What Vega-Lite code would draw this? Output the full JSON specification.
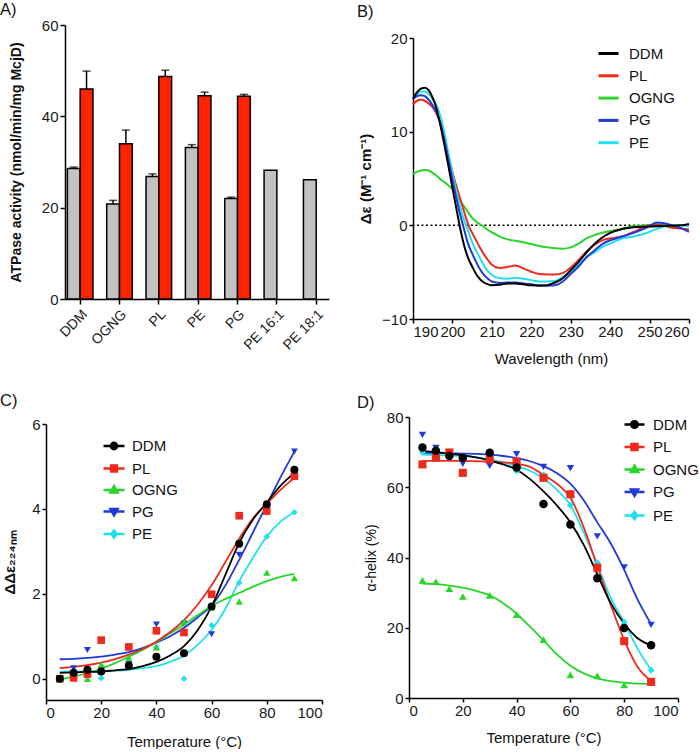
{
"$schema": "https://vega.github.io/schema/vega-lite/v6.json",
"background": "white",
"padding": {"left": 0, "top": 2, "right": 0, "bottom": 0},
"columns": 2,
"align": "all",
"bounds": "flush",
"spacing": {"row": 98, "column": 72},
"resolve": {"scale": {"color": "independent", "shape": "independent", "size": "independent"}, "legend": {"color": "independent"}},
"config": {
  "font": "Liberation Sans",
  "view": {"stroke": null},
  "axis": {"domainColor": "#000", "domainWidth": 1.5, "tickColor": "#000", "tickWidth": 1.5, "tickSize": 4, "labelFontSize": 15, "labelColor": "#1a1a1a", "titleColor": "#111", "titleFontSize": 15, "titleFontWeight": "normal", "grid": false, "labelFont": "Liberation Sans", "titleFont": "Liberation Sans", "labelPadding": 1, "titlePadding": 10},
  "legend": {"labelFontSize": 15, "labelFont": "Liberation Sans", "labelColor": "#111", "padding": 0, "orient": "none"},
  "title": {"font": "Liberation Sans", "fontSize": 16.5, "fontWeight": "normal", "anchor": "start", "baseline": "alphabetic", "color": "#111", "frame": "group"}
},
"concat": [
{
 "width": 264, "height": 274,
 "title": {"text": "A)", "dx": -65, "offset": -0.5},
 "data": {"values": [
  {"cat":"DDM","g":"a","v":28.6,"e":28.9},
  {"cat":"DDM","g":"b","v":46.0,"e":49.9},
  {"cat":"OGNG","g":"a","v":20.8,"e":21.6},
  {"cat":"OGNG","g":"b","v":34.0,"e":37.0},
  {"cat":"PL","g":"a","v":26.8,"e":27.4},
  {"cat":"PL","g":"b","v":48.7,"e":50.1},
  {"cat":"PE","g":"a","v":33.2,"e":33.8},
  {"cat":"PE","g":"b","v":44.5,"e":45.3},
  {"cat":"PG","g":"a","v":22.0,"e":22.3},
  {"cat":"PG","g":"b","v":44.4,"e":44.8},
  {"cat":"PE 16:1","g":"a","v":28.2},
  {"cat":"PE 18:1","g":"a","v":26.1}
 ]},
 "layer": [
  {"mark": {"type": "bar", "stroke": "#000", "strokeWidth": 1.5},
   "encoding": {
    "x": {"field": "cat", "type": "nominal", "sort": null, "scale": {"paddingInner": 0.35, "paddingOuter": 0.03, "align": 1}, "axis": {"title": null, "labelAngle": -45, "labelAlign": "right", "labelBaseline": "top", "labelFontSize": 14, "tickSize": 5, "labelPadding": 3}},
    "xOffset": {"field": "g", "type": "nominal", "scale": {"domain": ["a", "b"]}},
    "y": {"field": "v", "type": "quantitative", "scale": {"domain": [0, 60], "nice": false}, "axis": {"values": [0, 20, 40, 60], "title": "ATPase activity (nmol/min/mg McjD)", "titleFontWeight": "bold", "titleFontSize": 14, "titlePadding": 18, "tickSize": 5, "labelPadding": 2}},
    "color": {"field": "g", "type": "nominal", "scale": {"domain": ["a", "b"], "range": ["#c2c2c2", "#ff2300"]}, "legend": null}
   }},
  {"transform": [{"filter": "isValid(datum.e)"}],
   "mark": {"type": "rule", "stroke": "#000", "strokeWidth": 1.5},
   "encoding": {
    "x": {"field": "cat", "type": "nominal", "sort": null},
    "xOffset": {"field": "g", "type": "nominal"},
    "y": {"field": "v", "type": "quantitative"},
    "y2": {"field": "e"}
   }},
  {"transform": [{"filter": "isValid(datum.e)"}],
   "mark": {"type": "tick", "color": "#000", "thickness": 1.5, "size": 8},
   "encoding": {
    "x": {"field": "cat", "type": "nominal", "sort": null},
    "xOffset": {"field": "g", "type": "nominal"},
    "y": {"field": "e", "type": "quantitative"}
   }}
 ]
},
{
 "width": 276, "height": 294,
 "title": {"text": "B)", "dx": -56, "offset": 4.8},
 "layer": [
  {"data": {"values": [{}]}, "mark": {"type": "rule", "strokeDash": [2, 2.5], "strokeWidth": 1.5, "color": "#000"}, "encoding": {"y": {"datum": 0}}},
  {"data": {"values": [
   {"w":190,"DDM":13.5,"PL":12.9,"OGNG":5.5,"PG":13.5,"PE":13.6},
   {"w":191,"DDM":14.2,"PL":13.3,"OGNG":5.7,"PG":13.8,"PE":14.0},
   {"w":192,"DDM":14.6,"PL":13.4,"OGNG":5.85,"PG":13.9,"PE":14.3},
   {"w":193,"DDM":14.7,"PL":13.3,"OGNG":5.9,"PG":13.8,"PE":14.3},
   {"w":194,"DDM":14.4,"PL":13.0,"OGNG":5.85,"PG":13.4,"PE":14.0},
   {"w":195,"DDM":13.6,"PL":12.6,"OGNG":5.6,"PG":12.8,"PE":13.5},
   {"w":196,"DDM":12.4,"PL":11.9,"OGNG":5.3,"PG":12.0,"PE":12.8},
   {"w":197,"DDM":10.6,"PL":10.9,"OGNG":4.9,"PG":10.8,"PE":11.6},
   {"w":198,"DDM":8.5,"PL":9.4,"OGNG":4.6,"PG":9.0,"PE":9.8},
   {"w":199,"DDM":6.3,"PL":7.4,"OGNG":4.25,"PG":7.0,"PE":7.6},
   {"w":200,"DDM":4.0,"PL":5.7,"OGNG":3.85,"PG":4.9,"PE":5.6},
   {"w":201,"DDM":1.8,"PL":4.2,"OGNG":3.3,"PG":2.9,"PE":3.6},
   {"w":202,"DDM":-0.4,"PL":2.8,"OGNG":2.6,"PG":1.1,"PE":1.9},
   {"w":203,"DDM":-2.2,"PL":1.4,"OGNG":2.0,"PG":-0.5,"PE":0.5},
   {"w":204,"DDM":-3.5,"PL":0.1,"OGNG":1.35,"PG":-2.0,"PE":-0.6},
   {"w":205,"DDM":-4.4,"PL":-0.8,"OGNG":0.8,"PG":-3.0,"PE":-1.8},
   {"w":206,"DDM":-5.2,"PL":-1.6,"OGNG":0.4,"PG":-3.9,"PE":-2.7},
   {"w":207,"DDM":-5.75,"PL":-2.4,"OGNG":0.1,"PG":-4.7,"PE":-3.5},
   {"w":208,"DDM":-6.1,"PL":-3.1,"OGNG":-0.15,"PG":-5.3,"PE":-4.3},
   {"w":209,"DDM":-6.3,"PL":-3.7,"OGNG":-0.5,"PG":-5.7,"PE":-4.9},
   {"w":210,"DDM":-6.4,"PL":-4.2,"OGNG":-0.75,"PG":-6.0,"PE":-5.3},
   {"w":212,"DDM":-6.35,"PL":-4.55,"OGNG":-1.2,"PG":-6.15,"PE":-5.65},
   {"w":214,"DDM":-6.2,"PL":-4.45,"OGNG":-1.5,"PG":-6.1,"PE":-5.7},
   {"w":216,"DDM":-6.2,"PL":-4.3,"OGNG":-1.65,"PG":-6.1,"PE":-5.6},
   {"w":218,"DDM":-6.3,"PL":-4.6,"OGNG":-1.8,"PG":-6.2,"PE":-5.7},
   {"w":220,"DDM":-6.4,"PL":-4.95,"OGNG":-2.0,"PG":-6.3,"PE":-5.85},
   {"w":222,"DDM":-6.45,"PL":-5.2,"OGNG":-2.2,"PG":-6.4,"PE":-6.0},
   {"w":224,"DDM":-6.4,"PL":-5.25,"OGNG":-2.35,"PG":-6.45,"PE":-6.0},
   {"w":226,"DDM":-6.1,"PL":-5.25,"OGNG":-2.45,"PG":-6.4,"PE":-5.95},
   {"w":228,"DDM":-5.65,"PL":-5.1,"OGNG":-2.5,"PG":-6.0,"PE":-5.5},
   {"w":230,"DDM":-4.8,"PL":-4.5,"OGNG":-2.35,"PG":-5.2,"PE":-4.9},
   {"w":232,"DDM":-3.9,"PL":-3.7,"OGNG":-1.95,"PG":-4.4,"PE":-4.2},
   {"w":234,"DDM":-2.9,"PL":-2.8,"OGNG":-1.4,"PG":-3.4,"PE":-3.4},
   {"w":236,"DDM":-2.0,"PL":-2.1,"OGNG":-1.05,"PG":-2.7,"PE":-2.9},
   {"w":238,"DDM":-1.3,"PL":-1.6,"OGNG":-0.8,"PG":-2.0,"PE":-2.3},
   {"w":240,"DDM":-0.8,"PL":-1.4,"OGNG":-0.6,"PG":-1.6,"PE":-1.95},
   {"w":243,"DDM":-0.4,"PL":-1.2,"OGNG":-0.35,"PG":-1.2,"PE":-1.4},
   {"w":246,"DDM":-0.2,"PL":-0.7,"OGNG":-0.1,"PG":-0.8,"PE":-1.2},
   {"w":249,"DDM":-0.15,"PL":-0.1,"OGNG":0.0,"PG":-0.3,"PE":-0.85},
   {"w":252,"DDM":-0.1,"PL":0.1,"OGNG":0.05,"PG":0.3,"PE":-0.35},
   {"w":255,"DDM":-0.05,"PL":-0.2,"OGNG":0.0,"PG":0.1,"PE":-0.05},
   {"w":258,"DDM":0.0,"PL":-0.35,"OGNG":0.0,"PG":-0.3,"PE":0.0},
   {"w":260,"DDM":0.15,"PL":-0.45,"OGNG":0.05,"PG":-0.7,"PE":-0.1}
  ]},
   "transform": [{"fold": ["OGNG", "PL", "PE", "PG", "DDM"], "as": ["s", "val"]}],
   "mark": {"type": "line", "strokeWidth": 2, "interpolate": "monotone"},
   "encoding": {
    "x": {"field": "w", "type": "quantitative", "scale": {"domain": [190, 260], "nice": false}, "axis": {"values": [190, 200, 210, 220, 230, 240, 250, 260], "title": "Wavelength (nm)", "titlePadding": 12}},
    "y": {"field": "val", "type": "quantitative", "scale": {"domain": [-10, 20], "nice": false, "range": [294, 13]}, "axis": {"values": [-10, 0, 10, 20], "title": "Δε (M⁻¹ cm⁻¹)", "titleFontWeight": "bold", "titlePadding": 8, "labelPadding": 2}},
    "color": {"field": "s", "type": "nominal", "scale": {"domain": ["DDM", "PL", "OGNG", "PG", "PE"], "range": ["#000000", "#ee2a1c", "#2ad52a", "#1f3ad8", "#20e0ee"]}, "legend": {"title": null, "legendX": 184, "legendY": 17, "symbolType": "stroke", "symbolSize": 400, "symbolStrokeWidth": 3, "labelOffset": 9, "rowPadding": 2.3}}
   }}
 ]
},
{
 "width": 257, "height": 283,
 "title": {"text": "C)", "dx": -65, "offset": 7.5},
 "encoding": {
  "x": {"field": "t", "type": "quantitative", "scale": {"domain": [0, 100], "nice": false, "range": [-19, 257]}, "axis": {"values": [0, 20, 40, 60, 80, 100], "title": "Temperature (°C)", "titlePadding": 14}},
  "y": {"field": "val", "type": "quantitative", "scale": {"domain": [-0.5, 6], "nice": false, "range": [283, 7]}, "axis": {"values": [0, 2, 4, 6], "offset": 19, "title": "ΔΔε₂₂₄ₙₘ", "titleFontWeight": "bold", "titlePadding": 14, "labelPadding": 2}},
  "color": {"field": "s", "type": "nominal", "scale": {"domain": ["DDM", "PL", "OGNG", "PG", "PE"], "range": ["#000000", "#ee2a1c", "#2ad52a", "#1f3ad8", "#20e0ee"]},
   "legend": {"title": null, "legendX": 37, "legendY": 17, "symbolSize": 441, "symbolStrokeWidth": 2.5, "labelOffset": 6, "rowPadding": 1.5,
    "encode": {"symbols": {"update": {
     "shape": {"signal": "datum.value == 'DDM' ? 'M-1,0H1M-0.3,0A0.3,0.3,0,1,0,0.3,0A0.3,0.3,0,1,0,-0.3,0Z' : datum.value == 'PL' ? 'M-1,0H1M-0.28,-0.28H0.28V0.28H-0.28Z' : datum.value == 'OGNG' ? 'M-1,0H1M0,-0.36L0.34,0.24H-0.34Z' : datum.value == 'PG' ? 'M-1,0H1M0,0.36L0.34,-0.24H-0.34Z' : 'M-1,0H1M0,-0.34L0.26,0L0,0.34L-0.26,0Z'"},
     "fill": {"signal": "datum.value == 'DDM' ? '#000000' : datum.value == 'PL' ? '#ee2a1c' : datum.value == 'OGNG' ? '#2ad52a' : datum.value == 'PG' ? '#1f3ad8' : '#20e0ee'"},
     "stroke": {"signal": "datum.value == 'DDM' ? '#000000' : datum.value == 'PL' ? '#ee2a1c' : datum.value == 'OGNG' ? '#2ad52a' : datum.value == 'PG' ? '#1f3ad8' : '#20e0ee'"},
     "strokeWidth": {"value": 2.5},
     "size": {"value": 441},
     "opacity": {"value": 1}
    }}}}}
 },
 "layer": [
  {"data": {"values": [
   {"t":5,"DDM":0.14,"PL":0.25,"OGNG":-0.02,"PG":0.46,"PE":0.17},
   {"t":10,"DDM":0.15,"PL":0.28,"OGNG":0.05,"PG":0.47,"PE":0.17},
   {"t":15,"DDM":0.16,"PL":0.32,"OGNG":0.13,"PG":0.49,"PE":0.18},
   {"t":20,"DDM":0.17,"PL":0.38,"OGNG":0.24,"PG":0.52,"PE":0.18},
   {"t":25,"DDM":0.2,"PL":0.46,"OGNG":0.37,"PG":0.57,"PE":0.19},
   {"t":30,"DDM":0.23,"PL":0.57,"OGNG":0.52,"PG":0.63,"PE":0.21},
   {"t":35,"DDM":0.3,"PL":0.7,"OGNG":0.68,"PG":0.72,"PE":0.25},
   {"t":40,"DDM":0.4,"PL":0.88,"OGNG":0.86,"PG":0.85,"PE":0.3},
   {"t":45,"DDM":0.55,"PL":1.1,"OGNG":1.07,"PG":1.0,"PE":0.4},
   {"t":50,"DDM":0.77,"PL":1.38,"OGNG":1.28,"PG":1.2,"PE":0.55},
   {"t":55,"DDM":1.15,"PL":1.75,"OGNG":1.5,"PG":1.45,"PE":0.8},
   {"t":60,"DDM":1.7,"PL":2.2,"OGNG":1.72,"PG":1.72,"PE":1.15},
   {"t":65,"DDM":2.45,"PL":2.75,"OGNG":1.88,"PG":2.2,"PE":1.65},
   {"t":70,"DDM":3.2,"PL":3.3,"OGNG":2.02,"PG":2.8,"PE":2.3},
   {"t":75,"DDM":3.75,"PL":3.78,"OGNG":2.17,"PG":3.45,"PE":2.85},
   {"t":80,"DDM":4.15,"PL":4.12,"OGNG":2.3,"PG":4.1,"PE":3.35},
   {"t":85,"DDM":4.55,"PL":4.45,"OGNG":2.4,"PG":4.75,"PE":3.7},
   {"t":90,"DDM":4.85,"PL":4.73,"OGNG":2.47,"PG":5.35,"PE":3.92}
  ]},
   "transform": [{"fold": ["PE", "PG", "OGNG", "PL", "DDM"], "as": ["s", "val"]}],
   "mark": {"type": "line", "strokeWidth": 1.8, "interpolate": "monotone"}},
  {"data": {"values": [
   {"t":5,"DDM":0,"PL":0,"OGNG":0,"PG":0,"PE":0},
   {"t":10,"DDM":0.14,"PL":0.02,"OGNG":0.02,"PG":0.25,"PE":0.18},
   {"t":15,"DDM":0.21,"PL":0.11,"OGNG":0.0,"PG":0.68,"PE":0.2},
   {"t":20,"DDM":0.17,"PL":0.91,"OGNG":0.34,"PG":0.2,"PE":0.01},
   {"t":30,"DDM":0.31,"PL":0.75,"OGNG":0.5,"PG":0.35,"PE":0.3},
   {"t":40,"DDM":0.52,"PL":1.13,"OGNG":0.74,"PG":1.28,"PE":0.75},
   {"t":50,"DDM":0.6,"PL":1.09,"OGNG":1.34,"PG":1.3,"PE":0.0},
   {"t":60,"DDM":1.7,"PL":1.99,"OGNG":1.68,"PG":1.05,"PE":1.26},
   {"t":70,"DDM":3.18,"PL":3.84,"OGNG":1.82,"PG":2.92,"PE":2.26},
   {"t":80,"DDM":4.11,"PL":3.95,"OGNG":2.5,"PG":4.05,"PE":3.35},
   {"t":90,"DDM":4.92,"PL":4.77,"OGNG":2.37,"PG":5.35,"PE":3.92}
  ]},
   "transform": [{"fold": ["PE", "PG", "OGNG", "PL", "DDM"], "as": ["s", "val"]}],
   "mark": {"type": "point", "filled": true, "opacity": 1},
   "encoding": {
    "shape": {"field": "s", "type": "nominal", "scale": {"domain": ["PE", "PG", "OGNG", "PL", "DDM"], "range": ["diamond", "triangle-down", "triangle-up", "square", "circle"]}, "legend": null},
    "size": {"field": "s", "type": "nominal", "scale": {"domain": ["PE", "PG", "OGNG", "PL", "DDM"], "range": [42, 64, 64, 49, 56]}, "legend": null}
   }}
 ]
},
{
 "width": 265, "height": 281,
 "title": {"text": "D)", "dx": -56, "offset": -1.2},
 "encoding": {
  "x": {"field": "t", "type": "quantitative", "scale": {"domain": [0, 100], "nice": false, "range": [-4, 265]}, "axis": {"values": [0, 20, 40, 60, 80, 100], "title": "Temperature (°C)", "titlePadding": 12}},
  "y": {"field": "val", "type": "quantitative", "scale": {"domain": [0, 80], "nice": false}, "axis": {"values": [0, 20, 40, 60, 80], "offset": 4, "title": "α-helix (%)", "titleFontSize": 14, "titlePadding": 8, "labelPadding": 2}},
  "color": {"field": "s", "type": "nominal", "scale": {"domain": ["DDM", "PL", "OGNG", "PG", "PE"], "range": ["#000000", "#ee2a1c", "#2ad52a", "#1f3ad8", "#20e0ee"]},
   "legend": {"title": null, "legendX": 210, "legendY": -4, "symbolSize": 400, "symbolStrokeWidth": 2.5, "labelOffset": 7, "rowPadding": 2.5,
    "encode": {"symbols": {"update": {
     "shape": {"signal": "datum.value == 'DDM' ? 'M-1,0H1M-0.33,0A0.33,0.33,0,1,0,0.33,0A0.33,0.33,0,1,0,-0.33,0Z' : datum.value == 'PL' ? 'M-1,0H1M-0.3,-0.3H0.3V0.3H-0.3Z' : datum.value == 'OGNG' ? 'M-1,0H1M0,-0.38L0.36,0.26H-0.36Z' : datum.value == 'PG' ? 'M-1,0H1M0,0.38L0.36,-0.26H-0.36Z' : 'M-1,0H1M0,-0.36L0.28,0L0,0.36L-0.28,0Z'"},
     "fill": {"signal": "datum.value == 'DDM' ? '#000000' : datum.value == 'PL' ? '#ee2a1c' : datum.value == 'OGNG' ? '#2ad52a' : datum.value == 'PG' ? '#1f3ad8' : '#20e0ee'"},
     "stroke": {"signal": "datum.value == 'DDM' ? '#000000' : datum.value == 'PL' ? '#ee2a1c' : datum.value == 'OGNG' ? '#2ad52a' : datum.value == 'PG' ? '#1f3ad8' : '#20e0ee'"},
     "strokeWidth": {"value": 2.5},
     "size": {"value": 400},
     "opacity": {"value": 1}
    }}}}}
 },
 "layer": [
  {"data": {"values": [
   {"t":5,"DDM":70.3,"PL":67.5,"OGNG":32.6,"PG":69.8,"PE":69.3},
   {"t":10,"DDM":70.0,"PL":67.5,"OGNG":32.4,"PG":69.8,"PE":69.2},
   {"t":15,"DDM":69.6,"PL":67.5,"OGNG":32.0,"PG":69.7,"PE":69.1},
   {"t":20,"DDM":69.1,"PL":67.5,"OGNG":31.4,"PG":69.6,"PE":68.9},
   {"t":25,"DDM":68.5,"PL":67.4,"OGNG":30.5,"PG":69.5,"PE":68.5},
   {"t":30,"DDM":67.6,"PL":67.3,"OGNG":29.2,"PG":69.3,"PE":67.9},
   {"t":35,"DDM":66.5,"PL":67.1,"OGNG":27.0,"PG":68.9,"PE":67.1},
   {"t":40,"DDM":65.0,"PL":66.7,"OGNG":24.0,"PG":68.3,"PE":66.0},
   {"t":45,"DDM":62.3,"PL":65.8,"OGNG":20.3,"PG":67.4,"PE":64.7},
   {"t":50,"DDM":58.8,"PL":63.5,"OGNG":16.4,"PG":66.0,"PE":62.5},
   {"t":55,"DDM":54.8,"PL":61.0,"OGNG":12.4,"PG":64.0,"PE":59.3},
   {"t":60,"DDM":50.0,"PL":57.0,"OGNG":9.2,"PG":61.0,"PE":54.9},
   {"t":65,"DDM":43.5,"PL":48.5,"OGNG":7.0,"PG":56.2,"PE":47.0},
   {"t":70,"DDM":35.2,"PL":37.5,"OGNG":5.6,"PG":50.0,"PE":38.0},
   {"t":75,"DDM":27.0,"PL":26.5,"OGNG":4.8,"PG":44.0,"PE":28.5},
   {"t":80,"DDM":21.2,"PL":16.5,"OGNG":4.4,"PG":36.5,"PE":21.5},
   {"t":85,"DDM":17.0,"PL":8.8,"OGNG":4.1,"PG":28.0,"PE":14.0},
   {"t":90,"DDM":15.0,"PL":4.8,"OGNG":4.0,"PG":21.0,"PE":8.0}
  ]},
   "transform": [{"fold": ["PE", "PG", "OGNG", "PL", "DDM"], "as": ["s", "val"]}],
   "mark": {"type": "line", "strokeWidth": 1.8, "interpolate": "monotone"}},
  {"data": {"values": [
   {"t":5,"DDM":71.3,"PL":66.5,"OGNG":33.5,"PG":74.9,"PE":70.0},
   {"t":10,"DDM":70.4,"PL":68.5,"OGNG":33.1,"PG":71.2,"PE":69.6},
   {"t":15,"DDM":68.9,"PL":69.9,"OGNG":31.1,"PG":69.0,"PE":69.0},
   {"t":20,"DDM":68.4,"PL":64.1,"OGNG":28.9,"PG":66.7,"PE":68.0},
   {"t":30,"DDM":69.8,"PL":67.9,"OGNG":29.2,"PG":66.1,"PE":66.8},
   {"t":40,"DDM":65.6,"PL":67.3,"OGNG":23.7,"PG":69.4,"PE":64.6},
   {"t":50,"DDM":55.2,"PL":62.7,"OGNG":16.6,"PG":65.8,"PE":63.5},
   {"t":60,"DDM":49.4,"PL":58.0,"OGNG":6.6,"PG":65.4,"PE":54.9},
   {"t":70,"DDM":34.1,"PL":37.1,"OGNG":6.3,"PG":46.0,"PE":38.5},
   {"t":80,"DDM":19.9,"PL":16.2,"OGNG":3.7,"PG":37.2,"PE":21.6},
   {"t":90,"DDM":15.0,"PL":4.6,"OGNG":4.5,"PG":20.8,"PE":7.9}
  ]},
   "transform": [{"fold": ["PE", "PG", "OGNG", "PL", "DDM"], "as": ["s", "val"]}],
   "mark": {"type": "point", "filled": true, "opacity": 1},
   "encoding": {
    "shape": {"field": "s", "type": "nominal", "scale": {"domain": ["PE", "PG", "OGNG", "PL", "DDM"], "range": ["diamond", "triangle-down", "triangle-up", "square", "circle"]}, "legend": null},
    "size": {"field": "s", "type": "nominal", "scale": {"domain": ["PE", "PG", "OGNG", "PL", "DDM"], "range": [48, 72, 72, 56, 64]}, "legend": null}
   }}
 ]
}
]
}
